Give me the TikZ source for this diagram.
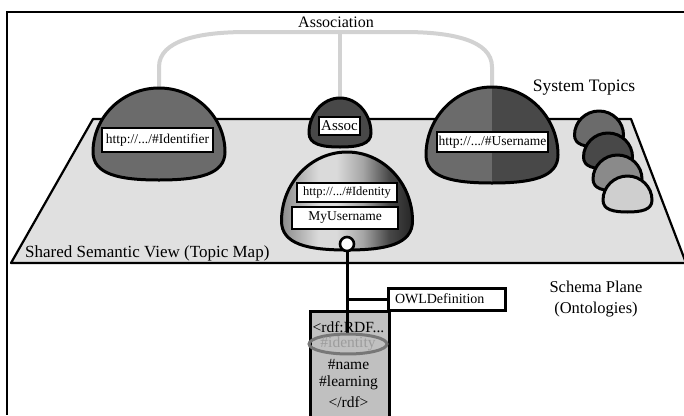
\documentclass[tikz,border=0pt]{standalone}
\usepackage{fontspec}
\setmainfont{Liberation Serif}
\usetikzlibrary{positioning,calc,shapes.geometric}
\tikzset{>=stealth}

\definecolor{planegray}{HTML}{E0E0E0}
\definecolor{linegray}{HTML}{D2D2D2}
\definecolor{topicgray}{HTML}{6B6B6B}
\definecolor{topicdark}{HTML}{484848}
\definecolor{topicmid}{HTML}{8A8A8A}
\definecolor{topiclight}{HTML}{CFCFCF}
\definecolor{shinegray}{HTML}{DADADA}
\definecolor{shadegray}{HTML}{A6A6A6}
\definecolor{deepgray}{HTML}{262626}
\definecolor{owlgray}{HTML}{C0C0C0}
\definecolor{markgray}{HTML}{777777}
\definecolor{marktext}{HTML}{9C9C9C}

\pgfdeclarehorizontalshading{identityshade}{100bp}{color(0bp)=(topicmid); color(25bp)=(topicmid);
  color(39bp)=(shinegray); color(46bp)=(shinegray); color(56bp)=(shadegray);
  color(66bp)=(topicdark); color(75bp)=(deepgray); color(100bp)=(deepgray)}

% Topic outline: centre x, top, widest y, bottom, half width
\newcommand{\topicdome}[5]{({(#1)-(#5)},{#3})
  .. controls ({(#1)-(#5)},{(#3)-0.55*((#3)-(#2))}) and ({(#1)-0.55*(#5)},{#2}) .. ({#1},{#2})
  .. controls ({(#1)+0.55*(#5)},{#2}) and ({(#1)+(#5)},{(#3)-0.55*((#3)-(#2))}) .. ({(#1)+(#5)},{#3})
  .. controls ({(#1)+(#5)},{(#3)+0.8*((#4)-(#3))}) and ({(#1)+0.6*(#5)},{#4}) .. ({#1},{#4})
  .. controls ({(#1)-0.6*(#5)},{#4}) and ({(#1)-(#5)},{(#3)+0.8*((#4)-(#3))}) .. cycle}

\tikzset{
  topic/.style={draw=black,line width=3pt,line join=round},
  label box/.style={draw=black,fill=white,line width=2.4pt,inner sep=0pt,
    font=\fontsize{13.5}{15}\selectfont},
  assoc line/.style={draw=linegray,line width=4pt},
  link/.style={draw=black,line width=3pt},
  title/.style={font=\fontsize{16.5}{21}\selectfont,inner sep=0pt},
  rdf text/.style={font=\fontsize{15.5}{18}\selectfont,inner sep=0pt}
}

\begin{document}
\begin{tikzpicture}[x=1pt,y=-1pt]
\useasboundingbox (0,0) rectangle (684,415);

% Frame
\draw[line width=1.8pt] (684,12) -- (7,12) -- (7,415);

% Plane of the shared topic map
\draw[line width=2.2pt,line join=round,fill=planegray]
  (93,119) -- (631,119) -- (686,263) -- (11,263) -- cycle;

% Tops of the topics
\coordinate (identifier top) at (159,88);
\coordinate (assoc top) at (340,98);
\coordinate (username top) at (492,87);
\coordinate (assoc bar) at (340,32);

% Association connector
\draw[assoc line] (identifier top) -- (159,67) .. controls (159,40) and (200,32) .. (247,32)
  -- (404,32) .. controls (451,32) and (492,40) .. (492,67) -- (username top);
\draw[assoc line] (assoc bar) -- (assoc top);
\node[title,font=\fontsize{16}{21}\selectfont] (association) at (336,22) {Association};

% Topics on the plane
\draw[topic,fill=topicgray] \topicdome{159}{88}{152}{180}{66};
\draw[topic,fill=topicdark] \topicdome{340}{98}{133}{147}{31};

\fill[topicgray] \topicdome{492}{87}{155}{183}{66};
\begin{scope}
  \clip \topicdome{492}{87}{155}{183}{66};
  \fill[topicdark] (492,80) rectangle (565,190);
\end{scope}
\draw[topic] \topicdome{492}{87}{155}{183}{66};

\shade[shading=identityshade] \topicdome{347}{152}{221}{250}{65.5};
\draw[topic] \topicdome{347}{152}{221}{250}{65.5};

% System topics
\foreach \cx/\ty/\col in {599/111/topicgray,608/133/topicdark,617.5/155/topicmid,627.5/176/topiclight}
  \draw[topic,fill=\col] \topicdome{\cx}{\ty}{\ty+24}{\ty+36}{24.5};
\node[title,font=\fontsize{17.5}{21}\selectfont] (system topics) at (584,88) {System Topics};

% Labels of the topics
\node[label box,minimum width=111,minimum height=24] (identifier) at (157.5,140) {http://.../\#Identifier};
\node[label box,minimum width=41,minimum height=18,font=\fontsize{15}{17}\selectfont] (assoc) at (339.5,126) {Assoc};
\node[label box,minimum width=111,minimum height=20] (username) at (492.5,142) {http://.../\#Username};
\node[label box,minimum width=100,minimum height=19,font=\fontsize{12.5}{15}\selectfont] (identity) at (347,192.5) {http://.../\#Identity};
\node[label box,minimum width=106,minimum height=22] (myusername) at (345,218) {MyUsername};
\node[title,anchor=west,font=\fontsize{17}{21}\selectfont] (topic map) at (25,253) {Shared Semantic View (Topic Map)};

% Schema plane
\node[title,align=center] (schema) at (596,299.5) {Schema Plane\\(Ontologies)};
\node[draw=black,fill=owlgray,line width=3pt,minimum width=79,minimum height=120,
  anchor=north west,inner sep=0pt] (rdf) at (309,310) {};
\node[label box,line width=3pt,minimum height=22,text width=103,inner xsep=7pt,align=left,
  font=\fontsize{14}{16}\selectfont] (owl) at (446.5,299) {OWLDefinition};

% Occurrence link down to the ontology
\node[draw=black,fill=white,circle,line width=2.6pt,minimum size=14,inner sep=0pt] (port) at (347,244) {};
\coordinate (rdf end) at (347,333);
\coordinate (branch) at (347,299);
\draw[link] (port) -- (rdf end);
\draw[link] (branch) -- (owl.west);

% Ontology text
\node[rdf text] (rdf head) at (348.5,327) {<rdf:RDF...};
\node[rdf text,ellipse,draw=markgray,line width=3pt,minimum width=70,minimum height=18,
  text=marktext] (identity mark) at (348,344) {\#identity};
\node[rdf text] (rdf name) at (348.5,364) {\#name};
\node[rdf text] (rdf learning) at (348.5,383) {\#learning};
\node[rdf text] (rdf close) at (348.5,402) {</rdf>};
\end{tikzpicture}
\end{document}
